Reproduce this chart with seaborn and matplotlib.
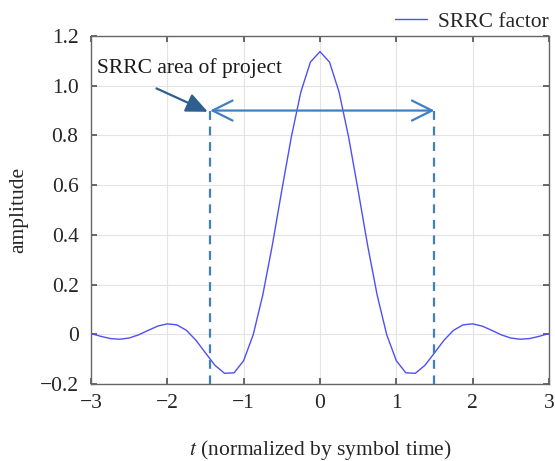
import numpy as np
import pandas as pd
import seaborn as sns
import matplotlib
matplotlib.use("Agg")
import matplotlib.pyplot as plt

# ---- data ----
t_values = [-3.0, -2.875, -2.75, -2.625, -2.5, -2.375, -2.25, -2.125, -2.0,
            -1.875, -1.75, -1.625, -1.5, -1.375, -1.25, -1.125, -1.0,
            -0.875, -0.75, -0.625, -0.5, -0.375, -0.25, -0.125, 0.0,
            0.125, 0.25, 0.375, 0.5, 0.625, 0.75, 0.875, 1.0,
            1.125, 1.25, 1.375, 1.5, 1.625, 1.75, 1.875, 2.0,
            2.125, 2.25, 2.375, 2.5, 2.625, 2.75, 2.875, 3.0]
amplitude = [0.003, -0.008, -0.017, -0.020, -0.015, -0.002, 0.016, 0.033, 0.042,
             0.038, 0.016, -0.024, -0.075, -0.125, -0.157, -0.155, -0.106,
             -0.002, 0.157, 0.357, 0.579, 0.794, 0.975, 1.095, 1.137,
             1.095, 0.975, 0.794, 0.579, 0.357, 0.157, -0.002, -0.106,
             -0.155, -0.157, -0.125, -0.075, -0.024, 0.016, 0.038, 0.042,
             0.033, 0.016, -0.002, -0.015, -0.020, -0.017, -0.008, 0.003]
series_label = "SRRC factor"
region_left, region_right, region_level = -1.44, 1.5, 0.9
annotation_text = "SRRC area of project"
x_ticks = [-3, -2, -1, 0, 1, 2, 3]
x_ticklabels = ["\u22123", "\u22122", "\u22121", "0", "1", "2", "3"]
y_ticks = [-0.2, 0, 0.2, 0.4, 0.6, 0.8, 1.0, 1.2]
y_ticklabels = ["\u22120.2", "0", "0.2", "0.4", "0.6", "0.8", "1.0", "1.2"]

df = pd.DataFrame({"t": t_values, "amp": amplitude, "series": series_label})

sns.set_theme(style="whitegrid")
plt.rcParams["font.family"] = ["Liberation Serif", "DejaVu Serif"]
plt.rcParams["mathtext.fontset"] = "stix"

FS = 15.5
fig = plt.figure(figsize=(5.55, 4.61), dpi=100)
ax = fig.add_axes([0.164, 0.167, 0.825, 0.755])

curve_color = "#4f4ff5"
sns.lineplot(data=df, x="t", y="amp", hue="series", palette=[curve_color],
             linewidth=1.0, ax=ax)

ax.set_xlim(-3, 3)
ax.set_ylim(-0.2, 1.2)
ax.set_xticks(x_ticks)
ax.set_xticklabels(x_ticklabels)
ax.set_yticks(y_ticks)
ax.set_yticklabels(y_ticklabels)
ax.tick_params(axis="both", labelsize=FS, direction="in", length=4,
               color="#555555", top=True, right=True, bottom=True, left=True)
ax.tick_params(axis="x", pad=7)
ax.tick_params(axis="y", pad=9)
ax.grid(True, color="#e3e3e3", linewidth=0.8)
for s in ax.spines.values():
    s.set_color("#666666")
    s.set_linewidth(1.0)

ax.set_xlabel("$t$ (normalized by symbol time)", fontsize=FS, labelpad=18)
ax.set_ylabel("amplitude", fontsize=FS, labelpad=8)

# annotation lines
ann_color = "#3f7fc2"
for xv in (region_left, region_right):
    ax.plot([xv, xv], [region_level, -0.21], linestyle=(0, (4, 3)),
            color=ann_color, linewidth=1.6, clip_on=False)
ax.annotate("", xy=(region_left, region_level), xytext=(region_right, region_level),
            fontsize=12,
            arrowprops=dict(arrowstyle="<->,head_length=1.2,head_width=0.6",
                            color=ann_color, linewidth=1.6, shrinkA=0, shrinkB=0))
ax.annotate(annotation_text, xy=(region_left - 0.03, region_level - 0.005),
            xytext=(-2.92, 1.07), fontsize=FS, color="#1a1a1a",
            ha="left", va="center",
            arrowprops=dict(arrowstyle="-|>,head_length=0.85,head_width=0.38",
                            color="#2f5f8f", linewidth=1.6,
                            shrinkA=12, shrinkB=0,
                            relpos=(0.2, 0.0)))

leg = ax.legend(loc="lower right", bbox_to_anchor=(1.01, 1.0), frameon=False,
                fontsize=FS, handlelength=1.45, handletextpad=0.55,
                borderaxespad=0.0, borderpad=0.2)
for line in leg.get_lines():
    line.set_linewidth(1.0)

fig.savefig("out.png", dpi=100)
